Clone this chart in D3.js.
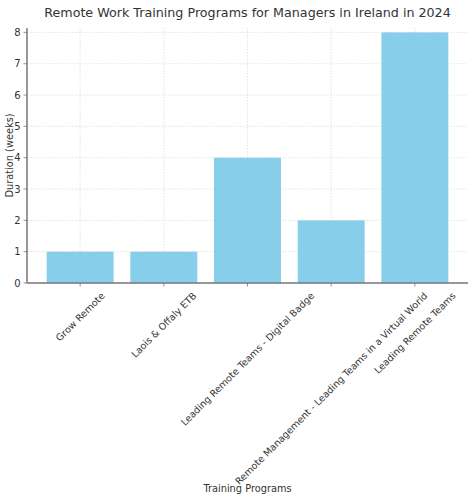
<!DOCTYPE html>
<html lang="en">
<head>
<meta charset="UTF-8">
<title>Remote Work Training Programs for Managers in Ireland in 2024</title>
<style>
    body {
        margin: 0;
        padding: 0;
        background-color: #fff;
        font-family: "DejaVu Sans", sans-serif;
    }
    .grid line {
        stroke: #dcdcdc;
        stroke-width: 0.8px;
        stroke-dasharray: 1.5,1.5;
    }
    .tick-label {
        fill: #333;
        font-size: 9.5px;
    }
</style>
</head>
<body>
<svg id="chart" width="474" height="500"></svg>

<script src="https://d3js.org/d3.v7.min.js"></script>
<script>
    // data
    const programs = [
        "Grow Remote",
        "Laois & Offaly ETB",
        "Leading Remote Teams - Digital Badge",
        "Remote Management - Leading Teams in a Virtual World",
        "Leading Remote Teams"
    ];
    const durations = [1, 1, 4, 2, 8];
    const yTicks = [0, 1, 2, 3, 4, 5, 6, 7, 8];

    const plotLeft = 27, plotRight = 468, plotTop = 28, plotBottom = 283;

    const svg = d3.select("#chart");

    const x = d3.scaleBand()
        .domain(programs)
        .range([plotLeft, plotRight])
        .paddingInner(0.2)
        .paddingOuter(0.235);

    const y = d3.scaleLinear()
        .domain([0, 8.14])
        .range([plotBottom, plotTop]);

    // grid lines
    const grid = svg.append("g").attr("class", "grid");
    grid.selectAll(".hg")
        .data(yTicks)
        .enter().append("line")
        .attr("x1", plotLeft).attr("x2", plotRight)
        .attr("y1", d => y(d)).attr("y2", d => y(d));
    grid.selectAll(".vg")
        .data(programs)
        .enter().append("line")
        .attr("x1", d => x(d) + x.bandwidth() / 2)
        .attr("x2", d => x(d) + x.bandwidth() / 2)
        .attr("y1", plotTop).attr("y2", plotBottom);

    // bars
    svg.selectAll(".bar")
        .data(programs)
        .enter().append("rect")
        .attr("class", "bar")
        .attr("x", d => x(d))
        .attr("width", x.bandwidth())
        .attr("y", (d, i) => y(durations[i]))
        .attr("height", (d, i) => plotBottom - y(durations[i]))
        .attr("fill", "#87ceeb");

    // y axis
    svg.append("line")
        .attr("x1", plotLeft).attr("x2", plotLeft)
        .attr("y1", plotTop).attr("y2", plotBottom)
        .attr("stroke", "#777").attr("stroke-width", 1.5);
    const yt = svg.selectAll(".ytick")
        .data(yTicks)
        .enter().append("g")
        .attr("transform", d => "translate(0," + y(d) + ")");
    yt.append("line")
        .attr("x1", plotLeft - 3.5).attr("x2", plotLeft)
        .attr("stroke", "#777").attr("stroke-width", 0.8);
    yt.append("text")
        .attr("class", "tick-label")
        .attr("x", plotLeft - 6.5)
        .attr("dy", "0.35em")
        .attr("text-anchor", "end")
        .style("font-size", "10px")
        .text(d => d);

    // x axis
    svg.append("line")
        .attr("x1", plotLeft).attr("x2", plotRight)
        .attr("y1", plotBottom).attr("y2", plotBottom)
        .attr("stroke", "#777").attr("stroke-width", 1.5);
    const xt = svg.selectAll(".xtick")
        .data(programs)
        .enter().append("g");
    xt.append("line")
        .attr("x1", d => x(d) + x.bandwidth() / 2)
        .attr("x2", d => x(d) + x.bandwidth() / 2)
        .attr("y1", plotBottom).attr("y2", plotBottom + 3.5)
        .attr("stroke", "#777").attr("stroke-width", 0.8);
    // rotated labels, centred under tick like matplotlib rotation=45
    xt.append("text")
        .attr("class", "tick-label")
        .attr("text-anchor", "middle")
        .attr("dominant-baseline", "central")
        .text(d => d)
        .each(function (d) {
            const w = this.getComputedTextLength();
            const h = 11;
            const half = (w + h) * Math.SQRT1_2 / 2;
            const cx = x(d) + x.bandwidth() / 2;
            const cy = plotBottom + 7 + half;
            d3.select(this).attr("transform", "translate(" + cx + "," + cy + ") rotate(-45)");
        });

    // title and axis labels
    svg.append("text")
        .attr("x", (plotLeft + plotRight) / 2)
        .attr("y", 17)
        .attr("text-anchor", "middle")
        .attr("fill", "#333")
        .attr("font-size", "12.7px")
        .text("Remote Work Training Programs for Managers in Ireland in 2024");

    svg.append("text")
        .attr("x", (plotLeft + plotRight) / 2)
        .attr("y", 492)
        .attr("text-anchor", "middle")
        .attr("fill", "#333")
        .attr("font-size", "9.8px")
        .text("Training Programs");

    svg.append("text")
        .attr("transform", "translate(13," + (plotTop + plotBottom) / 2 + ") rotate(-90)")
        .attr("text-anchor", "middle")
        .attr("fill", "#333")
        .attr("font-size", "9.8px")
        .text("Duration (weeks)");
</script>
</body>
</html>
